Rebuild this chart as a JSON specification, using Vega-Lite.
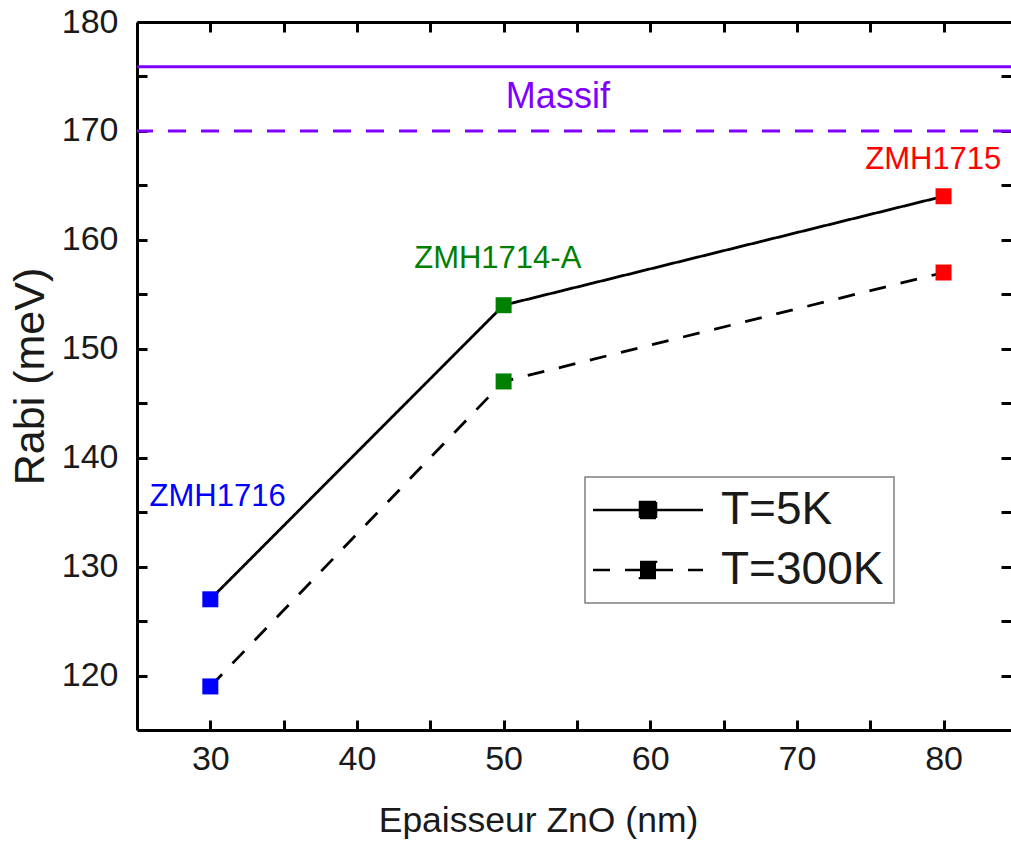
{
  "$schema": "https://vega.github.io/schema/vega-lite/v6.json",
  "width": 874,
  "height": 708,
  "autosize": {"type": "none"},
  "padding": {"left": 137, "top": 22, "right": 0, "bottom": 115},
  "background": "white",
  "config": {
    "view": {"stroke": null},
    "font": "Liberation Sans",
    "axis": {
      "domainColor": "black",
      "domainWidth": 3,
      "tickColor": "black",
      "tickWidth": 3,
      "tickSize": -10,
      "grid": false,
      "labelFont": "Liberation Sans",
      "labelFontSize": 34,
      "labelColor": "#1a1a1a",
      "titleFont": "Liberation Sans",
      "titleFontWeight": "normal",
      "titleColor": "#1a1a1a"
    },
    "legend": {
      "orient": "none",
      "legendX": 448,
      "legendY": 455,
      "strokeColor": "#808080",
      "strokeWidth": 1.5,
      "fillColor": "white",
      "padding": 10,
      "labelFont": "Liberation Sans",
      "labelFontSize": 46,
      "labelColor": "#1a1a1a",
      "labelLimit": 400,
      "symbolType": "M-6.875,0H-1M1,0H6.875M-1,-1H1V1H-1Z",
      "symbolSize": 256,
      "symbolStrokeWidth": 2.5,
      "symbolStrokeColor": "black",
      "symbolFillColor": "black",
      "symbolOffset": 30,
      "labelOffset": 50,
      "rowPadding": 14
    }
  },
  "datasets": {
    "rabi": [
      {"epaisseur": 30, "rabi": 127, "T": "T=5K", "sample": "ZMH1716"},
      {"epaisseur": 50, "rabi": 154, "T": "T=5K", "sample": "ZMH1714-A"},
      {"epaisseur": 80, "rabi": 164, "T": "T=5K", "sample": "ZMH1715"},
      {"epaisseur": 30, "rabi": 119, "T": "T=300K", "sample": "ZMH1716"},
      {"epaisseur": 50, "rabi": 147, "T": "T=300K", "sample": "ZMH1714-A"},
      {"epaisseur": 80, "rabi": 157, "T": "T=300K", "sample": "ZMH1715"}
    ],
    "massif": [
      {"T": "T=5K", "rabi": 175.9},
      {"T": "T=300K", "rabi": 170}
    ],
    "labels": [
      {"label": "ZMH1716", "epaisseur": 30.5, "rabi": 136.4},
      {"label": "ZMH1714-A", "epaisseur": 49.6, "rabi": 158.2},
      {"label": "ZMH1715", "epaisseur": 79.3, "rabi": 167.3},
      {"label": "Massif", "epaisseur": 53.7, "rabi": 173.1}
    ]
  },
  "resolve": {"axis": {"x": "independent", "y": "independent"}},
  "layer": [
    {
      "data": {"name": "rabi"},
      "mark": {"type": "line", "color": "black", "strokeWidth": 2.8},
      "encoding": {
        "x": {
          "field": "epaisseur",
          "type": "quantitative",
          "scale": {"domain": [25, 84.6], "nice": false, "zero": false},
          "axis": {
            "orient": "top",
            "values": [30, 35, 40, 45, 50, 55, 60, 65, 70, 75, 80],
            "labels": false,
            "title": null
          }
        },
        "y": {
          "field": "rabi",
          "type": "quantitative",
          "scale": {"domain": [115, 180], "nice": false, "zero": false},
          "axis": {
            "orient": "right",
            "values": [120, 125, 130, 135, 140, 145, 150, 155, 160, 165, 170, 175, 180],
            "labels": false,
            "domain": false,
            "title": null
          }
        },
        "strokeDash": {
          "field": "T",
          "type": "nominal",
          "scale": {"domain": ["T=5K", "T=300K"], "range": [[1, 0], [17, 15]]},
          "legend": {"title": null}
        }
      }
    },
    {
      "data": {"name": "rabi"},
      "mark": {"type": "point", "shape": "square", "filled": true, "size": 256, "opacity": 1, "strokeWidth": 0},
      "encoding": {
        "x": {
          "field": "epaisseur",
          "type": "quantitative",
          "axis": {
            "orient": "bottom",
            "values": [30, 35, 40, 45, 50, 55, 60, 65, 70, 75, 80],
            "labelExpr": "datum.value % 10 === 0 ? datum.label : ''",
            "labelPadding": 22,
            "title": "Epaisseur ZnO (nm)",
            "titleFontSize": 35.5,
            "titleX": 401,
            "titlePadding": 27
          }
        },
        "y": {
          "field": "rabi",
          "type": "quantitative",
          "axis": {
            "orient": "left",
            "values": [120, 125, 130, 135, 140, 145, 150, 155, 160, 165, 170, 175, 180],
            "labelExpr": "datum.value % 10 === 0 ? datum.label : ''",
            "labelPadding": 29,
            "title": "Rabi (meV)",
            "titleFontSize": 43,
            "titlePadding": 9
          }
        },
        "color": {
          "field": "sample",
          "type": "nominal",
          "scale": {"domain": ["ZMH1716", "ZMH1714-A", "ZMH1715", "Massif"], "range": ["#0000ff", "#008000", "#ff0000", "#8000ff"]},
          "legend": null
        }
      }
    },
    {
      "data": {"name": "massif"},
      "transform": [{"filter": "datum.T === 'T=5K'"}],
      "mark": {"type": "rule", "color": "#8000ff", "strokeWidth": 3},
      "encoding": {
        "y": {"field": "rabi", "type": "quantitative", "axis": null}
      }
    },
    {
      "data": {"name": "massif"},
      "transform": [{"filter": "datum.T === 'T=300K'"}],
      "mark": {"type": "rule", "color": "#8000ff", "strokeWidth": 3, "strokeDash": [18, 15]},
      "encoding": {
        "y": {"field": "rabi", "type": "quantitative", "axis": null}
      }
    },
    {
      "data": {"name": "labels"},
      "transform": [{"filter": "datum.label !== 'Massif'"}],
      "mark": {"type": "text", "fontSize": 31, "align": "center", "baseline": "middle", "font": "Liberation Sans"},
      "encoding": {
        "x": {"field": "epaisseur", "type": "quantitative", "axis": null},
        "y": {"field": "rabi", "type": "quantitative", "axis": null},
        "text": {"field": "label"},
        "color": {"field": "label", "type": "nominal", "legend": null}
      }
    },
    {
      "data": {"name": "labels"},
      "transform": [{"filter": "datum.label === 'Massif'"}],
      "mark": {"type": "text", "fontSize": 36, "align": "center", "baseline": "middle", "font": "Liberation Sans"},
      "encoding": {
        "x": {"field": "epaisseur", "type": "quantitative", "axis": null},
        "y": {"field": "rabi", "type": "quantitative", "axis": null},
        "text": {"field": "label"},
        "color": {"field": "label", "type": "nominal", "legend": null}
      }
    }
  ]
}
